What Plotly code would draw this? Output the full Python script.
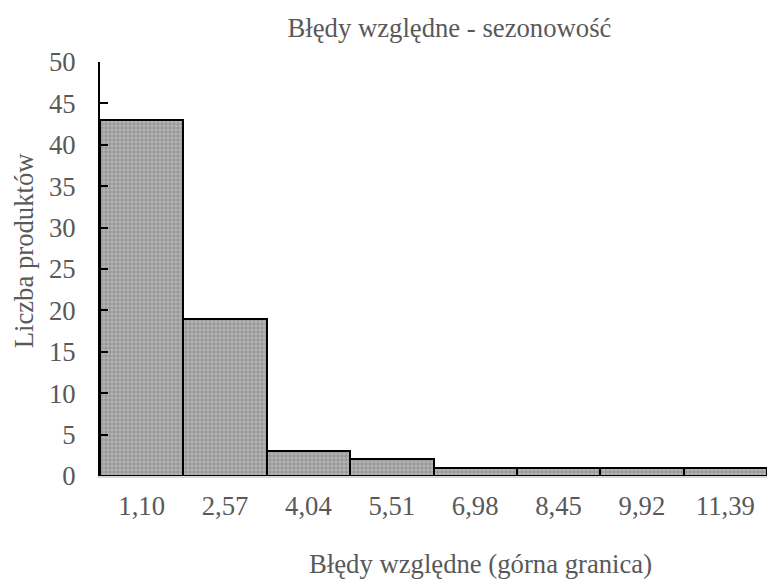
import plotly.graph_objects as go

# Histogram of relative errors (upper bin bounds) and product counts
bins = ["1,10", "2,57", "4,04", "5,51", "6,98", "8,45", "9,92", "11,39"]
counts = [43, 19, 3, 2, 1, 1, 1, 1]
y_ticks = [0, 5, 10, 15, 20, 25, 30, 35, 40, 45, 50]

FONT = "Liberation Serif, Times New Roman, serif"
TEXT = "#595959"
FS = 26.7

fig = go.Figure(
    go.Bar(
        x=bins,
        y=counts,
        marker=dict(
            color="#a6a6a6",
            line=dict(color="#000000", width=2),
            pattern=dict(shape="+", fgcolor="#808080", bgcolor="#b5b5b5",
                         size=4, solidity=0.3, fillmode="replace"),
        ),
        width=1,
    )
)

fig.update_layout(
    width=767,
    height=581,
    margin=dict(l=100, r=0, t=62, b=105),
    paper_bgcolor="white",
    plot_bgcolor="white",
    bargap=0,
    showlegend=False,
    font=dict(family=FONT, color=TEXT, size=FS),
    title=dict(text="Błędy względne - sezonowość", x=0.586, xanchor="center",
               y=0.953, yanchor="middle", font=dict(size=FS, color=TEXT, family=FONT)),
    xaxis=dict(
        type="category",
        showline=True, linecolor="#d9d9d9", linewidth=2,
        ticks="", showgrid=False,
        tickfont=dict(size=FS, color=TEXT, family=FONT),
        ticklabelstandoff=5,
    ),
    yaxis=dict(
        range=[0, 50], tickvals=y_ticks,
        showline=True, linecolor="#000000", linewidth=2,
        ticks="inside", ticklen=8, tickwidth=2, tickcolor="#000000",
        showgrid=False, zeroline=False,
        tickfont=dict(size=FS, color=TEXT, family=FONT),
        ticklabelstandoff=17,
    ),
    annotations=[
        dict(text="Błędy względne (górna granica)", xref="paper", yref="paper",
             x=0.570, y=-0.213, xanchor="center", yanchor="middle", showarrow=False,
             font=dict(size=FS, color=TEXT, family=FONT)),
        dict(text="Liczba produktów", xref="paper", yref="paper",
             x=-0.114, y=0.545, xanchor="center", yanchor="middle", showarrow=False,
             textangle=-90, font=dict(size=FS, color=TEXT, family=FONT)),
    ],
)

fig.write_html("out.html")
